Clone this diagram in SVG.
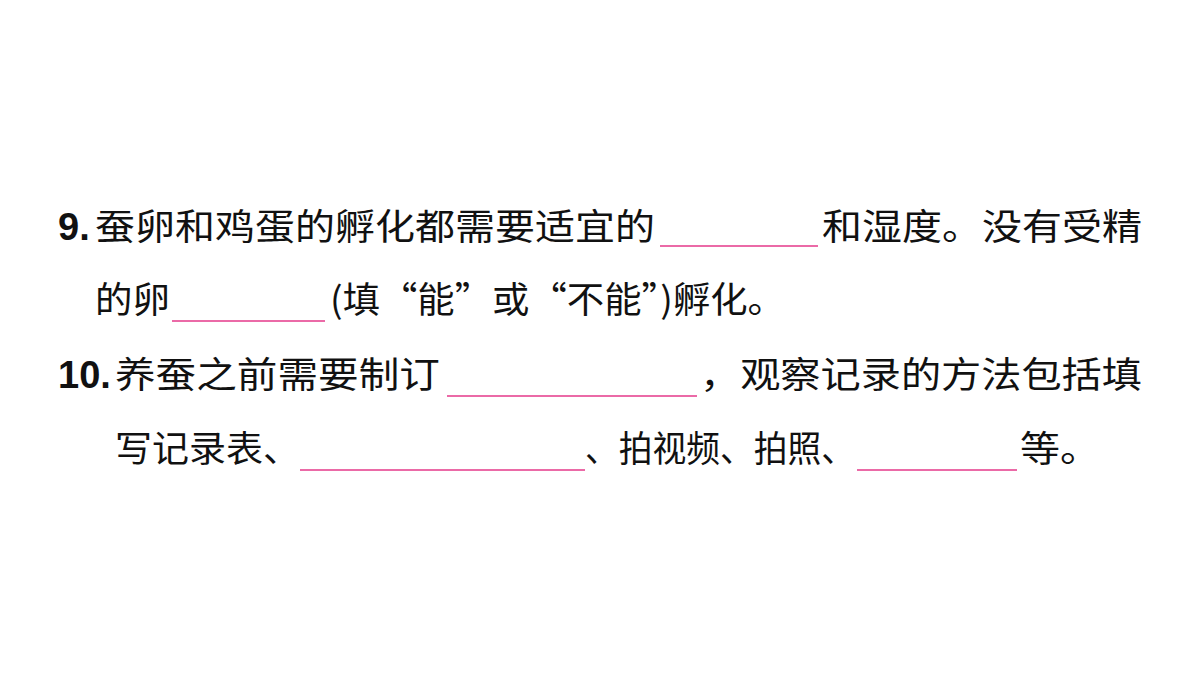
<svg xmlns="http://www.w3.org/2000/svg" width="1200" height="675" viewBox="0 0 1200 675">
<style>
text{font-family:"Noto Sans CJK SC","Liberation Sans",sans-serif;font-size:36px;fill:#111}
.n{font-family:"Liberation Sans",sans-serif;font-weight:bold;font-size:38px}
line{stroke:#e4398a;stroke-width:1.5}
</style>
<rect width="1200" height="675" fill="#fff"/>
<text class="n" x="58" y="240">9.</text>
<text x="95" y="240" textLength="560" lengthAdjust="spacingAndGlyphs">蚕卵和鸡蛋的孵化都需要适宜的</text>
<line x1="660" y1="246" x2="818" y2="246"/>
<text x="822" y="240" textLength="320" lengthAdjust="spacingAndGlyphs">和湿度。没有受精</text>
<text x="95" y="313" textLength="75" lengthAdjust="spacingAndGlyphs">的卵</text>
<line x1="172" y1="321" x2="325" y2="321"/>
<text x="330" y="313" textLength="455" lengthAdjust="spacingAndGlyphs">(填“能”或“不能”)孵化。</text>
<text class="n" x="58" y="388">10.</text>
<text x="115" y="388" textLength="325" lengthAdjust="spacingAndGlyphs">养蚕之前需要制订</text>
<line x1="447" y1="396" x2="697" y2="396"/>
<text x="700" y="388" textLength="442" lengthAdjust="spacingAndGlyphs">，观察记录的方法包括填</text>
<text x="115" y="462" textLength="185" lengthAdjust="spacingAndGlyphs">写记录表、</text>
<line x1="300" y1="470" x2="585" y2="470"/>
<text x="585" y="462" textLength="270" lengthAdjust="spacingAndGlyphs">、拍视频、拍照、</text>
<line x1="857" y1="470" x2="1017" y2="470"/>
<text x="1020" y="462" textLength="80" lengthAdjust="spacingAndGlyphs">等。</text>
</svg>
